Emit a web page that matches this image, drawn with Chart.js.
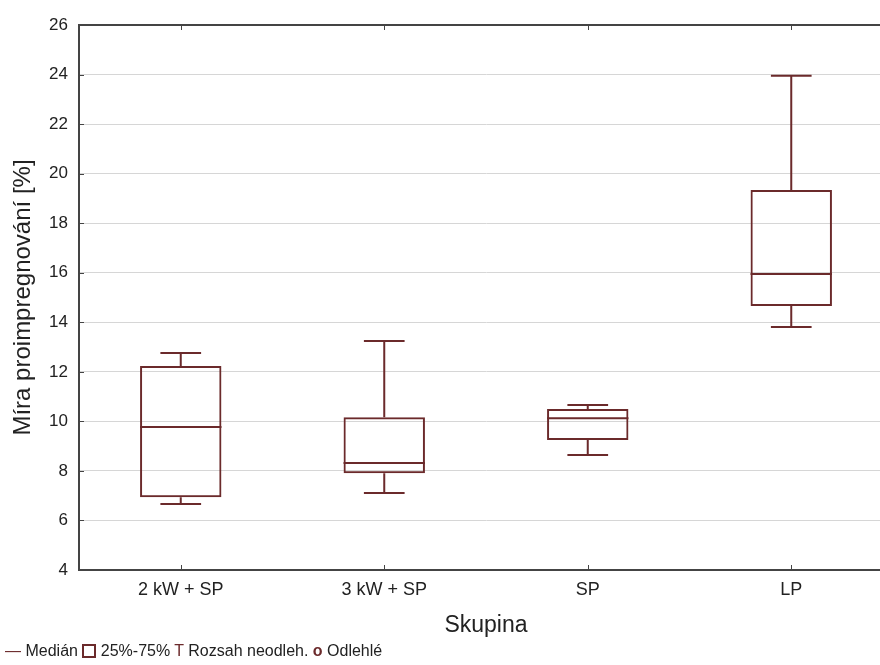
<!DOCTYPE html>
<html>
<head>
<meta charset="utf-8">
<script src="https://cdn.jsdelivr.net/npm/chart.js@4.4.1/dist/chart.umd.min.js"></script>
<style>
  html, body { margin: 0; padding: 0; background: #fff; overflow: hidden; }
  #wrap { position: absolute; left: 0; top: 0; width: 893px; height: 665px; }
  #legend { position: absolute; left: 5px; top: 642px; font-family: "Liberation Sans", Arial, sans-serif;
            font-size: 16px; color: #222; white-space: nowrap; }
  #legend .sym { color: #6b2a2b; }
  #legend .box { display: inline-block; width: 14px; height: 14px; border: 2px solid #6b2a2b; vertical-align: -2px; box-sizing: border-box; }
</style>
</head>
<body>
<div id="wrap"><canvas id="c"></canvas></div>
<div id="legend"><span class="sym">—</span> Medián <span class="box"></span> 25%-75% <span class="sym">T</span> Rozsah neodleh. <span class="sym"><b>o</b></span> Odlehlé</div>
<script>
const categories = ['2 kW + SP', '3 kW + SP', 'SP', 'LP'];
const minVals    = [6.66, 7.11, 8.64, 13.81];
const q1Vals     = [6.94, 7.91, 9.25, 14.66];
const medianVals = [9.77, 8.32, 10.13, 15.95];
const q3Vals     = [12.23, 10.17, 10.50, 19.34];
const maxVals    = [12.76, 13.24, 10.66, 23.95];
const yTicks     = [4, 6, 8, 10, 12, 14, 16, 18, 20, 22, 24, 26];

const MAROON = '#6b2a2b';
const FONT = '"Liberation Sans", Arial, sans-serif';

const boxPlugin = {
  id: 'boxWhiskers',
  afterDatasetsDraw(chart) {
    const ctx = chart.ctx;
    const x = chart.scales.x, y = chart.scales.y;
    const meta = chart.getDatasetMeta(0);
    ctx.save();
    ctx.strokeStyle = MAROON;
    ctx.lineWidth = 2;
    meta.data.forEach((bar, i) => {
      const cx = x.getPixelForValue(i);
      const half = bar.width / 2;
      const cap = bar.width / 4;
      const pMin = y.getPixelForValue(minVals[i]);
      const pQ1 = y.getPixelForValue(q1Vals[i]);
      const pMed = y.getPixelForValue(medianVals[i]);
      const pQ3 = y.getPixelForValue(q3Vals[i]);
      const pMax = y.getPixelForValue(maxVals[i]);
      ctx.beginPath();
      ctx.moveTo(cx - half, pMed); ctx.lineTo(cx + half, pMed);
      ctx.moveTo(cx, pQ3); ctx.lineTo(cx, pMax);
      ctx.moveTo(cx - cap, pMax); ctx.lineTo(cx + cap, pMax);
      ctx.moveTo(cx, pQ1); ctx.lineTo(cx, pMin);
      ctx.moveTo(cx - cap, pMin); ctx.lineTo(cx + cap, pMin);
      ctx.stroke();
    });
    const a = chart.chartArea;
    ctx.strokeStyle = '#444';
    ctx.lineWidth = 1;
    ctx.beginPath();
    categories.forEach((c, i) => {
      const px = Math.round(x.getPixelForValue(i)) + 0.5;
      ctx.moveTo(px, a.top); ctx.lineTo(px, a.top + 5);
      ctx.moveTo(px, a.bottom); ctx.lineTo(px, a.bottom - 5);
    });
    yTicks.forEach(v => {
      const py = Math.round(y.getPixelForValue(v)) + 0.5;
      ctx.moveTo(a.left, py); ctx.lineTo(a.left + 5, py);
    });
    ctx.stroke();
    ctx.restore();
  }
};

new Chart(document.getElementById('c'), {
  type: 'bar',
  data: {
    labels: categories,
    datasets: [{
      data: q1Vals.map((q, i) => [q, q3Vals[i]]),
      backgroundColor: 'rgba(255,255,255,0)',
      borderColor: MAROON,
      borderWidth: 2,
      borderSkipped: false,
      barPercentage: 0.4,
      categoryPercentage: 1
    }]
  },
  options: {
    responsive: true,
    maintainAspectRatio: false,
    animation: false,
    layout: { padding: { top: 25, left: 0, right: 0, bottom: 0 } },
    plugins: { legend: { display: false }, tooltip: { enabled: false } },
    scales: {
      x: {
        grid: { display: false, drawTicks: false },
        border: { display: true, color: '#444', width: 2 },
        ticks: { color: '#222', font: { family: FONT, size: 18 }, padding: 9 },
        title: { display: true, text: 'Skupina', color: '#222', font: { family: FONT, size: 23 }, padding: { top: 2, bottom: 26 } },
        afterFit(s) { s.height = 95; }
      },
      y: {
        min: 4, max: 26,
        afterBuildTicks(s) { s.ticks = yTicks.map(v => ({ value: v })); },
        grid: {
          drawTicks: false,
          color: ctx => (ctx.tick && ctx.tick.value === 26) ? '#444' : '#d6d6d6',
          lineWidth: ctx => (ctx.tick && ctx.tick.value === 26) ? 2 : 1
        },
        border: { display: true, color: '#444', width: 2 },
        ticks: { color: '#222', font: { family: FONT, size: 17 }, padding: 11 },
        title: { display: true, text: 'Míra proimpregnování [%]', color: '#222', font: { family: FONT, size: 24 }, padding: { top: 9, bottom: 0 } },
        afterFit(s) { s.width = 79; }
      }
    }
  },
  plugins: [boxPlugin]
});
</script>
</body>
</html>
